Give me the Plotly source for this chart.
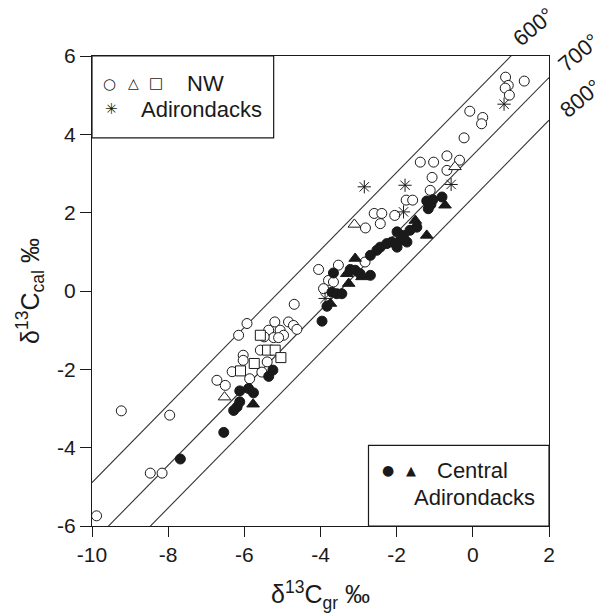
import plotly.graph_objects as go

# ---------------- data ----------------
nw_circle_x = [0.86, 0.93, 0.85, 0.96, 1.35, -0.08, 0.26, 0.23, -0.23,
               -0.68, -0.35, -1.38, -1.03, -0.68, -1.07, -1.12,
               -1.75, -1.58, -2.59, -2.39, -2.05, -2.43, -2.82,
               -2.83, -4.05, -3.53, -3.79, -3.66, -3.92,
               -4.69, -5.93, -6.15,
               -5.20, -5.36, -5.06, -4.84, -4.71, -4.62, -5.23, -4.97, -5.10, -5.48,
               -5.58, -6.03, -6.03, -5.40, -6.32, -5.86, -5.54, -6.72, -6.50,
               -9.23, -7.96, -8.47, -8.16, -9.88]
nw_circle_y = [5.46, 5.25, 5.18, 5.00, 5.36, 4.59, 4.43, 4.27, 3.91,
               3.45, 3.34, 3.29, 3.29, 3.08, 2.90, 2.57,
               2.32, 2.32, 1.98, 1.98, 1.93, 1.72, 1.61,
               0.74, 0.55, 0.66, 0.27, 0.23, 0.06,
               -0.34, -0.83, -1.13,
               -0.79, -1.00, -1.00, -0.79, -0.88, -0.98, -1.19, -1.13, -1.19, -1.17,
               -1.51, -1.64, -1.77, -1.81, -2.06, -2.24, -2.07, -2.28, -2.41,
               -3.06, -3.17, -4.65, -4.65, -5.74]

nw_triangle_x = [-0.47, -3.11, -6.52]
nw_triangle_y = [3.17, 1.70, -2.71]

nw_square_x = [-5.58, -5.39, -5.19, -5.04, -5.74, -6.10]
nw_square_y = [-1.13, -1.51, -1.51, -1.70, -1.85, -2.04]

nw_star_x = [0.82, -0.57, -2.85, -1.78, -1.82, -3.88]
nw_star_y = [4.77, 2.72, 2.66, 2.70, 2.02, -0.19]

c_circle_x = [-1.21, -1.10, -1.17, -1.05, -0.81,
              -1.47, -1.65, -1.99, -1.82, -1.91, -2.13, -2.26, -1.99, -1.73,
              -2.43, -2.52, -2.69, -3.22, -3.09, -2.69, -2.96, -3.66, -3.70,
              -3.57, -3.44, -3.83, -3.96,
              -5.25, -5.36, -6.12, -5.89, -5.76, -6.12, -6.19, -6.28,
              -6.54, -7.68]
c_circle_y = [2.30, 2.21, 2.10, 2.33, 2.40,
              1.63, 1.55, 1.51, 1.42, 1.29, 1.25, 1.21, 1.12, 1.25,
              1.12, 1.04, 0.91, 0.55, 0.53, 0.40, 0.44, 0.46, -0.03,
              -0.07, -0.07, -0.39, -0.77,
              -2.02, -2.18, -2.55, -2.49, -2.60, -2.83, -2.96, -3.05,
              -3.61, -4.29]

c_triangle_x = [-0.73, -1.51, -1.21, -3.09, -2.91, -3.31, -3.26, -3.74, -5.77]
c_triangle_y = [2.19, 1.80, 1.42, 0.83, 0.36, 0.44, 0.19, -0.32, -2.89]

# isotherms: delta13C(cal) = slope * delta13C(gr) + intercept
iso_labels = ["600°", "700°", "800°"]
iso_intercept = [5.01, 3.47, 2.38]
iso_slope = 0.99

x_ticks = [-10, -8, -6, -4, -2, 0, 2]
x_ticktext = ["-10", "-8", "-6", "-4", "-2", "0", "2"]
y_ticks = [-6, -4, -2, 0, 2, 4, 6]
y_ticktext = ["-6", "-4", "-2", "0", "2", "4", "6"]

# ---------------- figure ----------------
FONT = "Liberation Sans"
INK = "#1a1a1a"
fig = go.Figure()

line_x = [x_ticks[0], x_ticks[-1]]
for b in iso_intercept:
    fig.add_trace(go.Scatter(x=line_x, y=[iso_slope * v + b for v in line_x], mode="lines",
                             line=dict(color="#333333", width=1.1),
                             hoverinfo="skip", showlegend=False))

def pts(x, y, symbol, size=10, filled=False):
    fig.add_trace(go.Scatter(
        x=x, y=y, mode="markers", showlegend=False,
        marker=dict(symbol=symbol, size=size,
                    color=INK if filled else "white",
                    line=dict(color=INK, width=1))))

pts(nw_circle_x, nw_circle_y, "circle", 10)
pts(nw_triangle_x, nw_triangle_y, "triangle-up", 11)
pts(nw_square_x, nw_square_y, "square", 10)
fig.add_trace(go.Scatter(x=nw_star_x, y=nw_star_y, mode="markers", showlegend=False,
                         marker=dict(symbol="asterisk-open", size=11, color=INK,
                                     line=dict(color=INK, width=1))))
pts(c_circle_x, c_circle_y, "circle", 10, filled=True)
pts(c_triangle_x, c_triangle_y, "triangle-up", 11, filled=True)

# legend boxes
fig.add_shape(type="rect", xref="x", yref="y", x0=-10, x1=-5.23, y0=3.91, y1=6,
              line=dict(color=INK, width=1.2), fillcolor="white", layer="above")
fig.add_shape(type="rect", xref="x", yref="y", x0=-2.74, x1=2, y0=-6, y1=-3.94,
              line=dict(color=INK, width=1.2), fillcolor="white", layer="above")

ann = []
def txt(x, y, s, size=22, font=FONT, xanchor="left", angle=0):
    ann.append(dict(x=x, y=y, xref="x", yref="y", text=s, showarrow=False,
                    xanchor=xanchor, yanchor="middle", textangle=angle,
                    font=dict(family=font, size=size, color=INK)))

SYM = "DejaVu Sans"
txt(-9.53, 5.28, "○", 15, SYM, "center")
txt(-8.92, 5.30, "△", 14, SYM, "center")
txt(-8.31, 5.30, "□", 15, SYM, "center")
txt(-9.49, 4.64, "✳", 15, SYM, "center")
txt(-7.57, 5.29, "NW", 22)
txt(-8.77, 4.64, "Adirondacks", 22)

txt(-2.24, -4.58, "●", 14, SYM, "center")
txt(-1.63, -4.58, "▲", 13, SYM, "center")
txt(0.0, -4.58, "Central", 22, FONT, "center")
txt(0.04, -5.26, "Adirondacks", 22, FONT, "center")

for lab, px, py in zip(iso_labels, [534, 579, 580.7], [26.7, 52.3, 98.3]):
    ann.append(dict(x=(px - 91.5) / 457.5, y=(525.7 - py) / 470, xref="paper", yref="paper",
                    text=lab, showarrow=False, textangle=-40,
                    xanchor="center", yanchor="middle",
                    font=dict(family=FONT, size=22, color=INK)))

fig.update_layout(
    width=603, height=614,
    margin=dict(l=83.5, r=62, t=47.7, b=96.3),
    paper_bgcolor="white", plot_bgcolor="white",
    font=dict(family=FONT, size=21, color=INK),
    annotations=ann,
    xaxis=dict(range=[-10, 2], tickvals=x_ticks, ticktext=x_ticktext,
               ticks="outside", ticklen=10, tickwidth=1.2, tickcolor=INK,
               showline=True, linecolor=INK, linewidth=1.4, mirror=True,
               showgrid=False, zeroline=False,
               tickfont=dict(size=21),
               title=dict(text="δ<sup>13</sup>C<sub>gr</sub> ‰", font=dict(size=25), standoff=20)),
    yaxis=dict(range=[-6, 6], tickvals=y_ticks, ticktext=y_ticktext,
               ticks="outside", ticklen=11, tickwidth=1.2, tickcolor=INK,
               showline=True, linecolor=INK, linewidth=1.4, mirror=True,
               showgrid=False, zeroline=False,
               tickfont=dict(size=21),
               title=dict(text="δ<sup>13</sup>C<sub>cal</sub> ‰", font=dict(size=25), standoff=10)),
)

fig.write_html("out.html")
